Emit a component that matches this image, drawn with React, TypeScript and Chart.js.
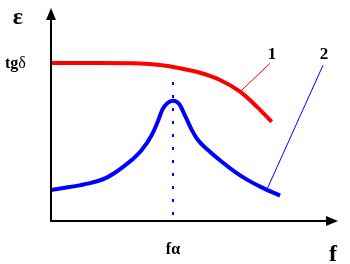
import React, { useEffect, useRef } from "react";
import { Chart, registerables } from "chart.js";

Chart.register(...registerables);

// Curve 1 (red): tgδ vs frequency
const redX = [0, 17.1, 31.0, 38.0, 44.9, 51.9, 58.9, 65.9, 71.7, 76.9];
const redY = [74.2, 74.2, 74.0, 73.2, 71.7, 69.6, 66.2, 60.7, 53.7, 46.6];

// Curve 2 (blue): ε vs frequency, resonance peak
const blueX = [0, 4.9, 9.4, 14.2, 18.8, 23.3, 28.1, 31.6, 35.1, 37.3, 38.8, 40.6, 42.5, 44.6, 46.7, 49.0, 51.2, 54.7, 59.5, 64.1, 68.6, 73.4, 79.8];
const blueY = [14.6, 15.6, 16.6, 18.0, 20.0, 23.6, 28.6, 33.3, 40.4, 47.0, 52.3, 55.4, 56.5, 55.0, 49.5, 42.9, 38.0, 33.3, 27.8, 23.1, 19.2, 15.8, 11.9];

// Resonance frequency marker
const peakX = 42.5;
const markerTop = 65.3;

// Leader lines to curve labels
const leader1X = [65.9, 76.3];
const leader1Y = [60.7, 74.0];
const leader2X = [75.3, 94.8];
const leader2Y = [15.0, 73.2];
const curveLabels = ["1", "2"];
const curveLabelX = [77.0, 95.1];
const curveLabelY = [78.9, 78.9];

const tgLevel = redY[0];

const pts = (xs: number[], ys: number[]) => xs.map((x, i) => ({ x, y: ys[i] }));

const decor = {
  id: "decor",
  afterDraw(chart: any) {
    const { ctx, chartArea } = chart;
    const xs = chart.scales.x;
    const ys = chart.scales.y;
    const L = chartArea.left;
    const B = chartArea.bottom;
    const T = chartArea.top;
    const R = chartArea.right;
    ctx.save();
    ctx.strokeStyle = "#000";
    ctx.fillStyle = "#000";
    ctx.lineWidth = 2;
    // y axis
    ctx.beginPath();
    ctx.moveTo(L, B + 1);
    ctx.lineTo(L, T + 10);
    ctx.stroke();
    ctx.beginPath();
    ctx.moveTo(L, T);
    ctx.lineTo(L - 5, T + 12);
    ctx.lineTo(L + 5, T + 12);
    ctx.closePath();
    ctx.fill();
    // x axis
    ctx.beginPath();
    ctx.moveTo(L - 1, B);
    ctx.lineTo(R - 10, B);
    ctx.stroke();
    ctx.beginPath();
    ctx.moveTo(R, B);
    ctx.lineTo(R - 12, B - 5);
    ctx.lineTo(R - 12, B + 5);
    ctx.closePath();
    ctx.fill();

    // texts
    ctx.textBaseline = "alphabetic";
    ctx.textAlign = "center";
    ctx.font = "bold 24px 'Liberation Serif'";
    ctx.fillText("ε", 18, 24);

    const ty = ys.getPixelForValue(tgLevel);
    ctx.textAlign = "left";
    ctx.font = "bold 16px 'Liberation Serif'";
    ctx.fillText("tg", 5, ty + 5);
    const w = ctx.measureText("tg").width;
    ctx.font = "16px 'Liberation Serif'";
    ctx.fillText("δ", 5 + w, ty + 5);

    ctx.textAlign = "center";
    ctx.font = "bold 16px 'Liberation Serif'";
    ctx.fillText("fα", xs.getPixelForValue(peakX), B + 33);

    ctx.font = "bold 24px 'Liberation Serif'";
    ctx.fillText("f", R - 5, B + 40);

    ctx.font = "bold 17px 'Liberation Serif'";
    curveLabels.forEach((t, i) => {
      ctx.fillText(t, xs.getPixelForValue(curveLabelX[i]), ys.getPixelForValue(curveLabelY[i]) + 6);
    });
    ctx.restore();
  },
};

export default function App() {
  const ref = useRef<HTMLCanvasElement | null>(null);
  useEffect(() => {
    document.body.style.margin = "0";
    const chart = new Chart(ref.current as HTMLCanvasElement, {
      type: "scatter",
      data: {
        datasets: [
          {
            data: pts([peakX, peakX], [markerTop, 0]),
            showLine: true,
            borderColor: "#0000ff",
            borderWidth: 2,
            borderDash: [3, 10],
            pointRadius: 0,
          },
          {
            data: pts(leader1X, leader1Y),
            showLine: true,
            borderColor: "#ff0000",
            borderWidth: 1,
            pointRadius: 0,
          },
          {
            data: pts(leader2X, leader2Y),
            showLine: true,
            borderColor: "#0000ff",
            borderWidth: 1,
            pointRadius: 0,
          },
          {
            data: pts(redX, redY),
            showLine: true,
            borderColor: "#ff0000",
            borderWidth: 4,
            pointRadius: 0,
            cubicInterpolationMode: "monotone",
          },
          {
            data: pts(blueX, blueY),
            showLine: true,
            borderColor: "#0000ff",
            borderWidth: 4,
            pointRadius: 0,
            cubicInterpolationMode: "monotone",
          },
        ],
      },
      options: {
        animation: false,
        responsive: false,
        maintainAspectRatio: false,
        layout: { padding: { left: 51, right: 12, top: 8, bottom: 43 } },
        plugins: { legend: { display: false }, tooltip: { enabled: false } },
        scales: {
          x: { type: "linear", min: 0, max: 100, display: false },
          y: { type: "linear", min: 0, max: 100, display: false },
        },
      },
      plugins: [decor],
    });
    return () => chart.destroy();
  }, []);
  return (
    <div style={{ position: "absolute", left: 0, top: 0, width: 350, height: 264, background: "#fff" }}>
      <canvas ref={ref} width={350} height={264} style={{ width: 350, height: 264 }} />
    </div>
  );
}
